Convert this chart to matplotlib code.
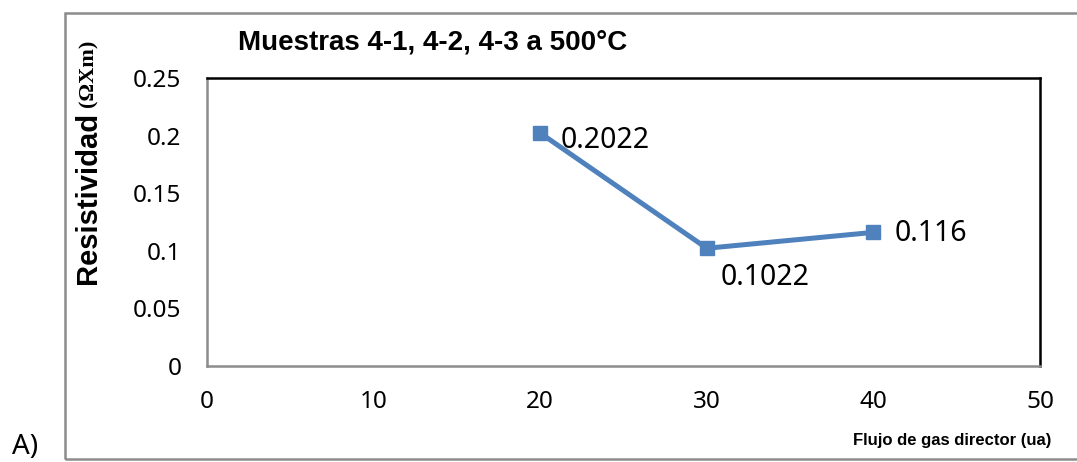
import matplotlib
matplotlib.use("Agg")
import matplotlib.pyplot as plt
from matplotlib.patches import Rectangle

flujo = [20, 30, 40]
resistividad = [0.2022, 0.1022, 0.116]
labels = ["0.2022", "0.1022", "0.116"]
xticks = [0, 10, 20, 30, 40, 50]
yticks = [0, 0.05, 0.1, 0.15, 0.2, 0.25]
ytick_labels = ["0", "0.05", "0.1", "0.15", "0.2", "0.25"]

bold_font = "Liberation Sans"
base = "Noto Sans"

W, H = 1077, 462
fig = plt.figure(figsize=(W / 100, H / 100), dpi=100)

# outer chart border (right edge lies beyond the image)
fig.patches.append(Rectangle((65 / W, 1 - 459 / H), (1090 - 65) / W, (459 - 13) / H,
                             transform=fig.transFigure, fill=False,
                             edgecolor="#8c8c8c", linewidth=1.8, clip_on=False))

ax = fig.add_axes([207 / W, 1 - 366 / H, (1040 - 207) / W, (366 - 78) / H])
ax.plot(flujo, resistividad, color="#4F81BD", linewidth=3.6, marker="s",
        markersize=10, markerfacecolor="#4F81BD", markeredgecolor="#4F81BD")

ax.set_xlim(0, 50)
ax.set_ylim(0, 0.25)
ax.set_xticks(xticks)
ax.set_yticks(yticks)
ax.set_yticklabels(ytick_labels)
ax.tick_params(length=0, labelsize=17.5, colors="black")
ax.tick_params(axis="x", pad=17)
ax.tick_params(axis="y", pad=18.5)
for lab in ax.get_xticklabels() + ax.get_yticklabels():
    lab.set_fontfamily(base)

for side in ["left", "bottom"]:
    ax.spines[side].set_color("#8c8c8c")
    ax.spines[side].set_linewidth(1.8)
for side in ["top", "right"]:
    ax.spines[side].set_color("black")
    ax.spines[side].set_linewidth(1.8)

offsets = [(15, -5), (10, -21), (15, -1)]
for x, y, t, (dx, dy) in zip(flujo, resistividad, labels, offsets):
    ax.annotate(t, (x, y), xytext=(dx, dy), textcoords="offset points",
                ha="left", va="center", fontsize=20.5, fontfamily=base)

fig.text(433 / W, 1 - 43 / H, "Muestras 4-1, 4-2, 4-3 a 500°C", ha="center", va="center",
         fontsize=20, fontweight="bold", fontfamily=bold_font)
fig.text(1051 / W, 1 - 440 / H, "Flujo de gas director (ua)", ha="right", va="center",
         fontsize=12, fontweight="bold", fontfamily=bold_font)

# y-axis label: sans part + serif part
fig.text(88 / W, 1 - 284 / H, "Resistividad", rotation=90, ha="center", va="bottom",
         fontsize=21, fontweight="bold", fontfamily=bold_font)
fig.text(88 / W, 1 - 107 / H, "(ΩXm)", rotation=90, ha="center", va="bottom",
         fontsize=16, fontweight="bold", fontfamily="Liberation Serif")

fig.text(12 / W, 1 - 447 / H, "A)", ha="left", va="center", fontsize=20, fontfamily=base)

fig.savefig("out.png", dpi=100)
